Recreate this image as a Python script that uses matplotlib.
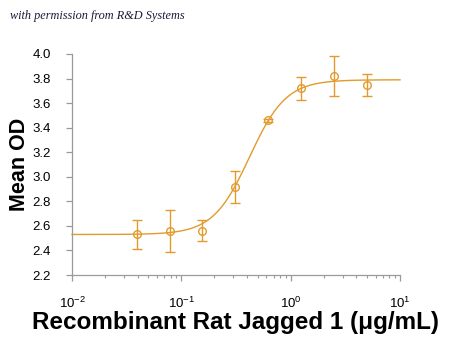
import numpy as np
import matplotlib
matplotlib.use("Agg")
import matplotlib.pyplot as plt
from matplotlib.ticker import LogLocator, FixedLocator, NullFormatter

plt.rcParams["mathtext.fontset"] = "custom"
plt.rcParams["mathtext.rm"] = "Liberation Sans"
plt.rcParams["mathtext.it"] = "Liberation Sans:italic"
plt.rcParams["mathtext.bf"] = "Liberation Sans:bold"

# Data
conc = [0.039, 0.078, 0.156, 0.3125, 0.625, 1.25, 2.5, 5.0]
mean_od = [2.53, 2.56, 2.56, 2.92, 3.46, 3.72, 3.82, 3.75]
err = [0.12, 0.17, 0.085, 0.13, 0.01, 0.095, 0.16, 0.09]

# 4-parameter logistic fit parameters (curve)
fit_bottom = 2.53
fit_top = 3.79
fit_ec50 = 0.42
fit_hill = 2.6

y_ticks = [2.2, 2.4, 2.6, 2.8, 3.0, 3.2, 3.4, 3.6, 3.8, 4.0]
x_ticks = [1e-2, 1e-1, 1e0, 1e1]
x_tick_labels = ["$10^{-2}$", "$10^{-1}$", "$10^{0}$", "$10^{1}$"]

color = "#E39A2D"

fig = plt.figure(figsize=(4.5, 3.54), dpi=100)
ax = fig.add_axes([72/450, 1-275/354, (400-72)/450, (275-54)/354])

xs = np.logspace(-2, 1, 300)
ys = fit_bottom + (fit_top - fit_bottom) / (1 + (fit_ec50 / xs) ** fit_hill)
ax.plot(xs, ys, color=color, lw=1.0, zorder=2, clip_on=False)
ax.errorbar(conc, mean_od, yerr=err, fmt="o", mfc="none", mec=color, ms=5.5, mew=1.0,
            ecolor=color, elinewidth=1.0, capsize=3.5, capthick=1.0, zorder=3)

ax.set_xscale("log")
ax.set_xlim(1e-2, 1e1)
ax.set_ylim(2.2, 4.0)
ax.spines["top"].set_visible(False)
ax.spines["right"].set_visible(False)
for s in ["left", "bottom"]:
    ax.spines[s].set_color("#9a9a9a")
    ax.spines[s].set_linewidth(0.9)

tick_font = dict(family=["Liberation Sans", "DejaVu Sans"], size=9.5)
ax.yaxis.set_major_locator(FixedLocator(y_ticks))
ax.set_yticklabels([f"{v:.1f}" for v in y_ticks], **tick_font)
ax.xaxis.set_major_locator(FixedLocator(x_ticks))
ax.set_xticklabels(x_tick_labels, **tick_font)
ax.xaxis.set_minor_locator(LogLocator(base=10, subs=np.arange(2, 10)))
ax.xaxis.set_minor_formatter(NullFormatter())
ax.tick_params(axis="y", which="major", color="#9a9a9a", length=4, width=0.9, pad=11)
ax.tick_params(axis="x", which="major", color="#9a9a9a", length=4, width=0.9, pad=11)
ax.tick_params(axis="x", which="minor", color="#9a9a9a", length=2.5, width=0.8)

ylabel_font = dict(family=["Liberation Sans", "DejaVu Sans"], weight="bold", size=15.5)
xlabel_font = dict(family=["Liberation Sans", "DejaVu Sans"], weight="bold", size=17.5)
ax.set_ylabel("Mean OD", **ylabel_font)
ax.yaxis.set_label_coords((20 - 72) / 328, 0.5)
ax.set_xlabel("Recombinant Rat Jagged 1 (\u03bcg/mL)", **xlabel_font)
ax.xaxis.set_label_coords(0.5, -(322 - 275) / 221)
ax.xaxis.label.set_va("center")
ax.yaxis.label.set_va("center")

fig.text(10/450, 1-16/354, "with permission from R&D Systems", fontsize=8.8,
         family=["Liberation Serif", "DejaVu Serif"], style="italic", color="#1a1a3a",
         va="center", ha="left")

fig.savefig("out.png", dpi=100)
